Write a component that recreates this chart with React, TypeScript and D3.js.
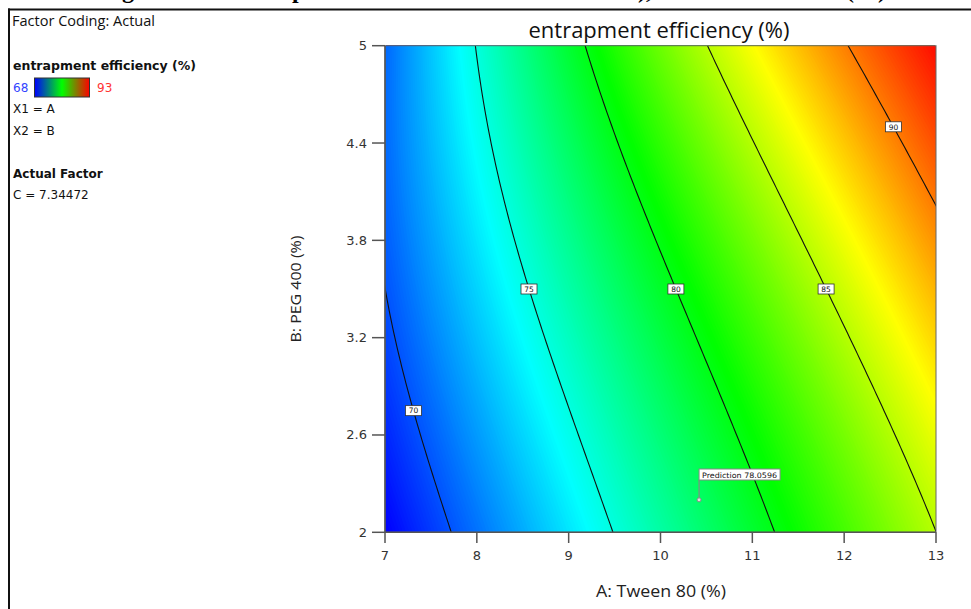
import React, { useMemo } from "react";
import * as d3 from "d3";

// ---- data ----
const A_DOMAIN = [7, 13];
const B_DOMAIN = [2, 5];
const xTicks = [7, 8, 9, 10, 11, 12, 13];
const yTicks = [2, 2.6, 3.2, 3.8, 4.4, 5];
const contourLevels = [70, 75, 80, 85, 90];
const contourLabelB = [2.75, 3.5, 3.5, 3.5, 4.5];
// response model: f = p(B) + q(B)*(A-10) + r(B)*(A-10)^2, each in powers of (B-2)
const interceptCoef = [76.47, 1.788, 0.1462];
const linearCoef = [2.84, 0.0587, 0.076];
const quadCoef = [0, 0, 0, -0.0063];
const colorDomain = [68, 74.25, 80.5, 86.75, 93];
const colorRange = ["#0000ff", "#00ffff", "#00ff00", "#ffff00", "#ff0000"];
const predictionPoint = [10.42, 2.2];
const predictionValue = "78.0596";
const legendLow = 68;
const legendHigh = 93;
const actualFactor = "C = 7.34472";

const poly = (c: number[], t: number) => c.reduce((s, v, i) => s + v * Math.pow(t, i), 0);
const model = (A: number, B: number) => {
  const t = B - 2, u = A - 10;
  return poly(interceptCoef, t) + poly(linearCoef, t) * u + poly(quadCoef, t) * u * u;
};
const solveA = (L: number, B: number) => {
  const t = B - 2;
  const p = poly(interceptCoef, t), q = poly(linearCoef, t), r = poly(quadCoef, t);
  const d = q * q + 4 * r * (L - p);
  if (d < 0) return NaN;
  return 10 + (2 * (L - p)) / (q + Math.sqrt(d));
};

export default function App() {
  const W = 971, H = 609;
  const x = d3.scaleLinear().domain(A_DOMAIN).range([385, 936]);
  const y = d3.scaleLinear().domain(B_DOMAIN).range([532.3, 45.7]);
  const color = d3.scaleLinear<string>().domain(colorDomain).range(colorRange).clamp(true);

  const bands = useMemo(() => {
    const n = 220, m = 180;
    const vals = new Array(n * m);
    for (let j = 0; j < m; j++) {
      const B = B_DOMAIN[0] + ((j + 0.5) * (B_DOMAIN[1] - B_DOMAIN[0])) / m;
      for (let i = 0; i < n; i++) {
        const A = A_DOMAIN[0] + ((i + 0.5) * (A_DOMAIN[1] - A_DOMAIN[0])) / n;
        vals[j * n + i] = model(A, B);
      }
    }
    const thresholds = d3.range(66, 95, 0.1);
    const cs = d3.contours().size([n, m]).thresholds(thresholds)(vals);
    const proj = d3.geoTransform({
      point(px: number, py: number) {
        (this as any).stream.point(
          x(A_DOMAIN[0] + (px * (A_DOMAIN[1] - A_DOMAIN[0])) / n),
          y(B_DOMAIN[0] + (py * (B_DOMAIN[1] - B_DOMAIN[0])) / m)
        );
      },
    });
    const path = d3.geoPath(proj);
    return cs.map((c) => ({ d: path(c as any) || "", fill: color(c.value + 0.05) }));
  }, []);

  const lines = contourLevels.map((L) => {
    const pts: [number, number][] = d3.range(0, 121).map((k) => {
      const B = B_DOMAIN[0] + (k * (B_DOMAIN[1] - B_DOMAIN[0])) / 120;
      return [solveA(L, B), B] as [number, number];
    }).filter((p) => !isNaN(p[0]));
    return d3.line<[number, number]>().x((p) => x(p[0])).y((p) => y(p[1]))(pts) || "";
  });

  const labels = contourLevels.map((L, i) => {
    const B = contourLabelB[i];
    return { L, cx: x(solveA(L, B)), cy: y(B) };
  });

  const px = x(predictionPoint[0]), py = y(predictionPoint[1]);
  const legendFont = "'DejaVu Sans', sans-serif";

  return (
    <svg width={W} height={H} style={{ position: "absolute", left: 0, top: 0, background: "#fff" }}
      xmlns="http://www.w3.org/2000/svg">
      <defs>
        <clipPath id="plotClip">
          <rect x={385} y={45.7} width={551} height={486.6} />
        </clipPath>
        <linearGradient id="legGrad" x1="0" x2="1" y1="0" y2="0">
          <stop offset="0%" stopColor="#0000ff" />
          <stop offset="50%" stopColor="#00ff00" />
          <stop offset="100%" stopColor="#ff0000" />
        </linearGradient>
      </defs>
      <rect x={0} y={0} width={W} height={H} fill="#fff" />

      {/* clipped caption from the page above */}
      <g fontFamily="'Liberation Serif', serif" fontWeight="bold" fontSize={24} fill="#000">
        <text x={122} y={-2}>g</text>
        <text x={292} y={-2}>p</text>
        <text x={638} y={-2}>),</text>
        <text x={846} y={-2}>(%)</text>
      </g>

      {/* page frame */}
      <line x1={8} x2={W} y1={9.5} y2={9.5} stroke="#111" strokeWidth={2} />
      <line x1={9} x2={9} y1={8.5} y2={H} stroke="#111" strokeWidth={2} />

      {/* legend */}
      <g fontFamily={legendFont} fontSize={12} fill="#111">
        <text x={12} y={26} fontFamily="'Open Sans', sans-serif" fontSize={14} textLength={143}
          lengthAdjust="spacingAndGlyphs">Factor Coding: Actual</text>
        <text x={13} y={70} fontWeight="bold" fontSize={12.5}>entrapment efficiency (%)</text>
        <text x={13} y={92} fill="#3344ff">{legendLow}</text>
        <rect x={34.5} y={78} width={55} height={19} fill="url(#legGrad)" stroke="#333" strokeWidth={1} />
        <text x={97} y={92} fill="#ff3333">{legendHigh}</text>
        <text x={13} y={113}>X1 = A</text>
        <text x={13} y={135}>X2 = B</text>
        <text x={13} y={178} fontWeight="bold">Actual Factor</text>
        <text x={13} y={199}>{actualFactor}</text>
      </g>

      {/* title */}
      <text x={659} y={38} textAnchor="middle" fontFamily="'Open Sans', sans-serif" fontSize={21} fill="#111"
        textLength={261} lengthAdjust="spacingAndGlyphs">
        entrapment efficiency (%)
      </text>

      {/* filled surface */}
      <g clipPath="url(#plotClip)">
        {bands.map((b, i) => (
          <path key={i} d={b.d} fill={b.fill} />
        ))}
        {lines.map((d, i) => (
          <path key={"l" + i} d={d} fill="none" stroke="#111" strokeWidth={1.1} />
        ))}
      </g>

      {/* contour labels */}
      {labels.map((l) => (
        <g key={"lab" + l.L}>
          <rect x={l.cx - 8} y={l.cy - 5} width={16} height={10} fill="#fff" stroke="#333" strokeWidth={0.8} />
          <text x={l.cx} y={l.cy + 2.8} textAnchor="middle" fontFamily={legendFont} fontSize={7.5} fill="#111">
            {l.L}
          </text>
        </g>
      ))}

      {/* prediction callout */}
      <g>
        <line x1={px} x2={px} y1={py} y2={480} stroke="#888" strokeWidth={1.2} />
        <circle cx={px} cy={py} r={2} fill="#ddd" stroke="#888" strokeWidth={1} />
        <rect x={px} y={469} width={81} height={11} fill="#fff" stroke="#888" strokeWidth={1} />
        <text x={px + 3} y={477.5} fontFamily={legendFont} fontSize={7.5} fill="#111" textLength={75}
          lengthAdjust="spacingAndGlyphs">
          {`Prediction  ${predictionValue}`}
        </text>
      </g>

      {/* plot frame */}
      <rect x={385} y={45.7} width={551} height={486.6} fill="none" stroke="#666" strokeWidth={1} />
      <line x1={385} x2={385} y1={45.7} y2={532.3} stroke="#555" strokeWidth={1.5} />
      <line x1={385} x2={936} y1={532.3} y2={532.3} stroke="#555" strokeWidth={1.5} />

      {/* axes ticks */}
      <g fontFamily={legendFont} fontSize={13} fill="#333">
        {xTicks.map((t) => (
          <g key={"x" + t}>
            <line x1={x(t)} x2={x(t)} y1={532.3} y2={543} stroke="#555" strokeWidth={1.5} />
            <text x={x(t)} y={560} textAnchor="middle">{t}</text>
          </g>
        ))}
        {yTicks.map((t) => (
          <g key={"y" + t}>
            <line x1={372} x2={385} y1={y(t)} y2={y(t)} stroke="#555" strokeWidth={1.5} />
            <text x={367} y={y(t) + 4.5} textAnchor="end">{t}</text>
          </g>
        ))}
      </g>

      {/* axis titles */}
      <text x={661} y={597} textAnchor="middle" fontFamily="'Open Sans', sans-serif" fontSize={17} fill="#222"
        textLength={130} lengthAdjust="spacingAndGlyphs">
        A: Tween 80 (%)
      </text>
      <text transform="translate(301,289) rotate(-90)" textAnchor="middle" fontFamily="'Open Sans', sans-serif"
        fontSize={15} fill="#222" textLength={107} lengthAdjust="spacingAndGlyphs">
        B: PEG 400 (%)
      </text>
    </svg>
  );
}
